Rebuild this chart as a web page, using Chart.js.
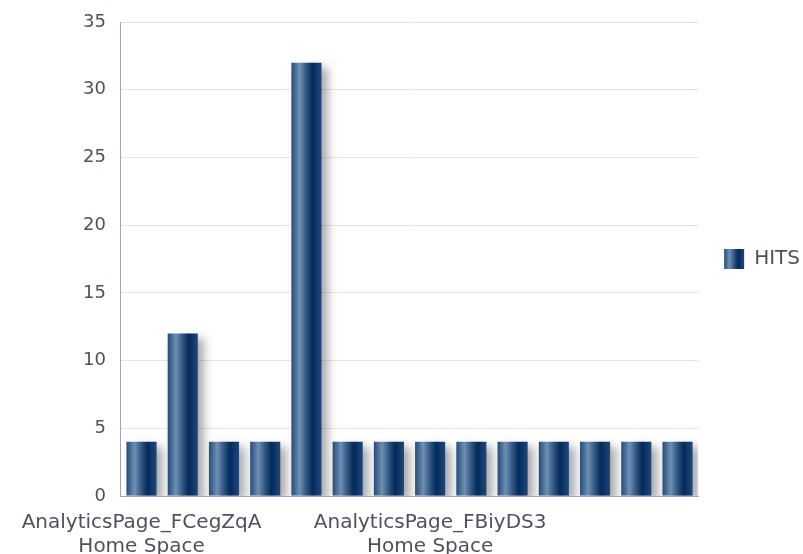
<!DOCTYPE html>
<html>
<head>
<meta charset="utf-8">
<script src="https://cdn.jsdelivr.net/npm/chart.js@4/dist/chart.umd.min.js"></script>
<style>
  html, body { margin: 0; padding: 0; background: #fff; }
  #wrap { width: 803px; height: 554px; position: relative; }
</style>
</head>
<body>
<div id="wrap"><canvas id="chart"></canvas></div>
<script>
const categories = [
  ["AnalyticsPage_FCegZqA", "Home Space"],
  ["AnalyticsPage_2", "Home Space"],
  ["AnalyticsPage_3", "Home Space"],
  ["AnalyticsPage_4", "Home Space"],
  ["AnalyticsPage_5", "Home Space"],
  ["AnalyticsPage_6", "Home Space"],
  ["AnalyticsPage_7", "Home Space"],
  ["AnalyticsPage_FBiyDS3", "Home Space"],
  ["AnalyticsPage_9", "Home Space"],
  ["AnalyticsPage_10", "Home Space"],
  ["AnalyticsPage_11", "Home Space"],
  ["AnalyticsPage_12", "Home Space"],
  ["AnalyticsPage_13", "Home Space"],
  ["AnalyticsPage_14", "Home Space"],
];
const hits = [4, 12, 4, 4, 32, 4, 4, 4, 4, 4, 4, 4, 4, 4];
const yTicks = [0, 5, 10, 15, 20, 25, 30, 35];
const seriesName = "HITS";

const textColor = "#50515f";
const axisColor = "#a0a3c6";
const gridColor = "#e2e3ec";
const fontFamily = "'DejaVu Sans', Verdana, sans-serif";

function barGradient(ctx, x0, x1) {
  const g = ctx.createLinearGradient(x0, 0, x1, 0);
  g.addColorStop(0, "#244b79");
  g.addColorStop(0.27, "#6f90b3");
  g.addColorStop(0.5, "#2f5580");
  g.addColorStop(0.7, "#022a5c");
  g.addColorStop(1, "#1f4878");
  return g;
}

const shadowPlugin = {
  id: "barShadow",
  beforeDatasetsDraw(chart) {
    const c = chart.ctx;
    c.save();
    c.shadowColor = "rgba(60,60,70,0.45)";
    c.shadowBlur = 10;
    c.shadowOffsetX = 6;
    c.shadowOffsetY = 5;
  },
  afterDatasetsDraw(chart) {
    chart.ctx.restore();
  },
  beforeDraw(chart) {
    const legend = chart.legend;
    if (legend && legend.legendHitBoxes && legend.legendHitBoxes[0]) {
      const hb = legend.legendHitBoxes[0];
      const bw = legend.options.labels.boxWidth;
      legend.legendItems[0].fillStyle = barGradient(chart.ctx, hb.left, hb.left + bw);
    }
  },
};

new Chart(document.getElementById("chart"), {
  type: "bar",
  data: {
    labels: categories,
    datasets: [
      {
        label: seriesName,
        data: hits,
        borderWidth: 0,
        categoryPercentage: 1,
        barPercentage: 0.73,
        backgroundColor: (context) => {
          const chart = context.chart;
          const xs = chart.scales.x;
          if (!xs || xs.left === undefined) return "#1d4674";
          const cx = xs.getPixelForValue(context.dataIndex);
          const half = (xs.width / categories.length) * 0.73 / 2;
          return barGradient(chart.ctx, cx - half, cx + half);
        },
      },
    ],
  },
  options: {
    responsive: true,
    maintainAspectRatio: false,
    animation: false,
    layout: {
      padding: { top: 22, right: -7, left: 68, bottom: -20 },
    },
    scales: {
      x: {
        grid: { display: false, drawTicks: false },
        border: { display: true, color: axisColor, width: 1 },
        afterFit: (scale) => {
          scale.paddingLeft = 0;
          scale.paddingRight = 0;
        },
        ticks: {
          autoSkip: false,
          maxRotation: 0,
          minRotation: 0,
          padding: 15,
          color: textColor,
          font: { family: fontFamily, size: 20, lineHeight: 1.2 },
          callback: function (value, index) {
            return index % 7 === 0 ? this.getLabelForValue(value) : "";
          },
        },
      },
      y: {
        min: 0,
        max: 35,
        afterBuildTicks: (scale) => {
          scale.ticks = yTicks.map((v) => ({ value: v }));
        },
        afterFit: (scale) => {
          scale.paddingTop = 0;
          scale.paddingBottom = 0;
        },
        grid: { color: gridColor, drawTicks: false },
        border: { display: true, color: axisColor, width: 1 },
        ticks: {
          padding: 15,
          color: textColor,
          font: { family: fontFamily, size: 18 },
        },
      },
    },
    plugins: {
      legend: {
        position: "right",
        fullSize: false,
        labels: {
          boxWidth: 20,
          boxHeight: 20,
          padding: 26,
          color: textColor,
          font: { family: fontFamily, size: 20 },
        },
      },
      tooltip: { enabled: false },
    },
  },
  plugins: [shadowPlugin],
});
</script>
</body>
</html>
